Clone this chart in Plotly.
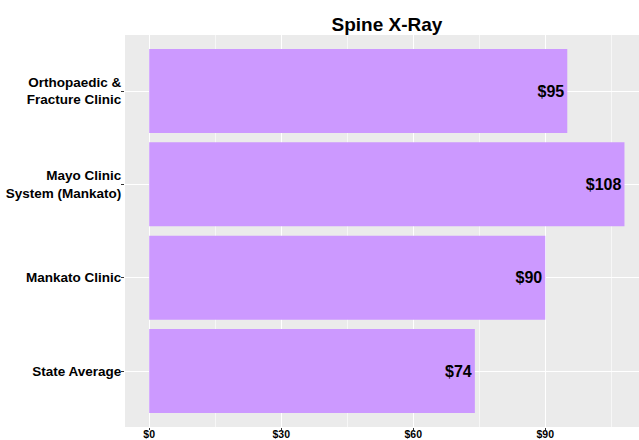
import plotly.graph_objects as go

categories = ["State Average", "Mankato Clinic", "Mayo Clinic<br>System (Mankato)", "Orthopaedic &<br>Fracture Clinic"]
prices = [74, 90, 108, 95]
labels = ["$74", "$90", "$108", "$95"]
x_ticks = [0, 30, 60, 90]
x_tick_labels = ["$0", "$30", "$60", "$90"]
title_text = "Spine X-Ray"

FONT = "Liberation Sans, Arial, sans-serif"

fig = go.Figure(go.Bar(
    x=prices, y=categories, orientation="h",
    marker=dict(color="#CC99FF", line=dict(width=0)),
    width=0.9,
    text=labels, textposition="inside", insidetextanchor="end",
    textfont=dict(family=FONT, size=16, color="black", weight="bold"),
    textangle=0, cliponaxis=False, hoverinfo="skip",
))

fig.update_layout(
    width=639, height=440,
    margin=dict(l=125, r=0, t=35, b=13, autoexpand=False),
    paper_bgcolor="white", plot_bgcolor="#EBEBEB",
    showlegend=False,
    title=dict(text=title_text, x=0.6056, xanchor="center", xref="container",
               y=1 - 24/440, yanchor="middle", yref="container",
               font=dict(family=FONT, size=19, color="black", weight="bold")),
    uniformtext=dict(minsize=8, mode="show"),
)

fig.update_xaxes(
    range=[-5.5, 111.3], tickvals=x_ticks, ticktext=x_tick_labels,
    showgrid=True, gridcolor="white", gridwidth=1.1,
    minor=dict(showgrid=True, gridcolor="#F7F7F7", gridwidth=0.6, dtick=15, tick0=15),
    zeroline=False, showline=False,
    ticks="outside", ticklen=2, tickcolor="#333333",
    ticklabelstandoff=-5,
    tickfont=dict(family=FONT, size=10.5, color="black", weight="bold"),
    automargin=False,
)
fig.update_yaxes(
    type="category", categoryorder="array", categoryarray=categories,
    range=[-0.6, 3.6],
    showgrid=True, gridcolor="white", gridwidth=1.1,
    zeroline=False, showline=False,
    ticks="outside", ticklen=3, tickcolor="#333333",
    ticklabelstandoff=-3,
    tickfont=dict(family=FONT, size=13.5, color="black", weight="bold"),
    automargin=False,
)

fig.write_html(
    "out.html",
    config={"displayModeBar": False},
    post_script="document.body.style.margin='0';document.body.style.overflow='hidden';",
)
